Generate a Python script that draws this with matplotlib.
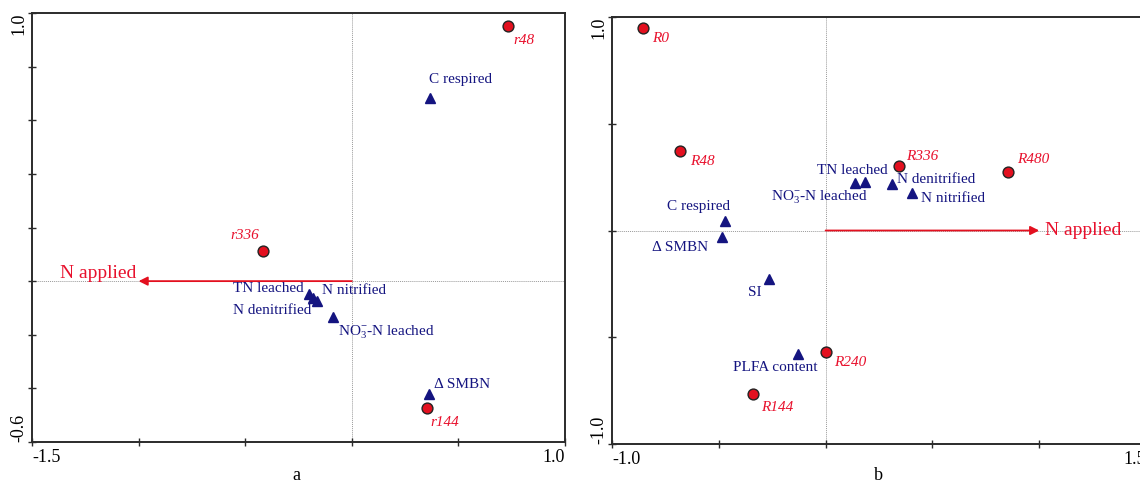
import matplotlib
matplotlib.use("Agg")
import matplotlib.pyplot as plt

plt.rcParams['font.family'] = ['Liberation Serif', 'DejaVu Serif']
plt.rcParams['mathtext.fontset'] = 'custom'
plt.rcParams['mathtext.rm'] = 'Liberation Serif'
plt.rcParams['mathtext.it'] = 'Liberation Serif:italic'

# ---------------- data: panel a ----------------
a_samples = ['r48', 'r336', 'r144']
a_sample_x = [0.733, -0.417, 0.353]
a_sample_y = [0.950, 0.112, -0.473]
a_vars = ['C respired', 'TN leached', 'N denitrified', 'N nitrified',
          r'NO$_3^{-}$-N leached', 'Δ SMBN']
a_var_x = [0.367, -0.201, -0.180, -0.163, -0.088, 0.362]
a_var_y = [0.683, -0.048, -0.062, -0.074, -0.134, -0.421]
a_env = 'N applied'
a_env_x = -1.0
a_env_y = 0.0
a_xlim = (-1.5, 1.0)
a_ylim = (-0.6, 1.0)
a_xticks = [-1.5, -1.0, -0.5, 0.0, 0.5, 1.0]
a_yticks = [-0.6, -0.4, -0.2, 0.0, 0.2, 0.4, 0.6, 0.8, 1.0]

# ---------------- data: panel b ----------------
b_samples = ['R0', 'R48', 'R144', 'R240', 'R336', 'R480']
b_sample_x = [-0.855, -0.682, -0.340, 0.002, 0.344, 0.854]
b_sample_y = [0.948, 0.372, -0.766, -0.569, 0.302, 0.274]
b_vars = ['C respired', 'Δ SMBN', 'SI', 'PLFA content', r'NO$_3^{-}$-N leached',
          'TN leached', 'N denitrified', 'N nitrified']
b_var_x = [-0.471, -0.485, -0.265, -0.129, 0.138, 0.184, 0.311, 0.404]
b_var_y = [0.045, -0.030, -0.227, -0.578, 0.222, 0.227, 0.218, 0.176]
b_env = 'N applied'
b_env_x = 1.0
b_env_y = 0.0
b_xlim = (-1.0, 1.5)
b_ylim = (-1.0, 1.0)
b_xticks = [-1.0, -0.5, 0.0, 0.5, 1.0, 1.5]
b_yticks = [-1.0, -0.5, 0.0, 0.5, 1.0]

# ---------------- label offsets (pixels) ----------------
a_sample_off = {'r48': (5, -14, 'left'), 'r336': (-4, 16, 'right'), 'r144': (3, -15, 'left')}
a_var_off = {'C respired': (-1, 18, 'left'), 'TN leached': (-5, 5, 'right'),
             'N denitrified': (-2, -13, 'right'), 'N nitrified': (5, 10, 'left'),
             r'NO$_3^{-}$-N leached': (5, -15, 'left'), 'Δ SMBN': (5, 10, 'left')}
b_sample_off = {'R0': (9, -10, 'left'), 'R48': (10, -10, 'left'), 'R144': (8, -13, 'left'),
                'R240': (8, -11, 'left'), 'R336': (7, 10, 'left'), 'R480': (9, 13, 'left')}
b_var_off = {'C respired': (5, 14, 'right'), 'Δ SMBN': (-14, -11, 'right'),
             'SI': (-7, -14, 'right'), 'PLFA content': (19, -14, 'right'),
             r'NO$_3^{-}$-N leached': (13, -14, 'right'), 'TN leached': (23, 12, 'right'),
             'N denitrified': (5, 4, 'left'), 'N nitrified': (9, -6, 'left')}

RED = '#e3101f'
RED_TXT = '#e8112d'
NAVY = '#141480'
SPINE = '#2b2b2b'

fig = plt.figure(figsize=(11.4, 4.82), dpi=100)
W, H = 1140, 482
ax_a = fig.add_axes([32 / W, (H - 442) / H, 533 / W, 429 / H])
ax_b = fig.add_axes([612 / W, (H - 444) / H, 534 / W, 427 / H])


def draw(ax, sx, sy, snames, soff, vx, vy, vnames, voff, ex, ey, ename, eoff,
         xlim, ylim, xticks, yticks):
    ax.set_xlim(*xlim)
    ax.set_ylim(*ylim)
    ax.axhline(0, color='#9a9a9a', lw=0.7, ls=(0, (1, 1)), zorder=1)
    ax.axvline(0, color='#9a9a9a', lw=0.7, ls=(0, (1, 1)), zorder=1)
    ax.annotate('', xy=(ex, ey), xytext=(0, 0),
                arrowprops=dict(arrowstyle='-|>', color=RED, lw=1.3,
                                mutation_scale=13, shrinkA=0, shrinkB=0),
                zorder=2)
    ax.annotate(ename, xy=(ex, ey), xytext=eoff[:2], textcoords='offset pixels',
                ha=eoff[2], va='center', color=RED_TXT, fontsize=14)
    ax.plot(vx, vy, ls='none', marker='^', ms=7, color=NAVY, mec=NAVY, zorder=3)
    ax.plot(sx, sy, ls='none', marker='o', ms=7.8, color=RED, mec='#222222',
            mew=1.0, zorder=4)
    for n, x, y in zip(vnames, vx, vy):
        dx, dy, ha = voff[n]
        ax.annotate(n, xy=(x, y), xytext=(dx, dy), textcoords='offset pixels',
                    ha=ha, va='center', color=NAVY, fontsize=11)
    for n, x, y in zip(snames, sx, sy):
        dx, dy, ha = soff[n]
        ax.annotate(n, xy=(x, y), xytext=(dx, dy), textcoords='offset pixels',
                    ha=ha, va='center', color=RED_TXT, fontsize=11, style='italic')
    ax.set_xticks(xticks)
    ax.set_yticks(yticks)
    xl = [''] * len(xticks)
    xl[0] = f'{xticks[0]:.1f}'
    xl[-1] = f'{xticks[-1]:.1f}'
    yl = [''] * len(yticks)
    yl[0] = f'{yticks[0]:.1f}'
    yl[-1] = f'{yticks[-1]:.1f}'
    ax.set_xticklabels(xl, fontsize=13)
    ax.set_yticklabels(yl, fontsize=13, rotation=90)
    xt = ax.get_xticklabels()
    xt[0].set_ha('left')
    xt[-1].set_ha('right')
    yt = ax.get_yticklabels()
    yt[0].set_va('bottom')
    yt[-1].set_va('top')
    ax.tick_params(direction='inout', length=6, width=1, color=SPINE,
                   labelcolor='black')
    ax.tick_params(axis='x', pad=2)
    ax.tick_params(axis='y', pad=0)
    for s in ax.spines.values():
        s.set_color(SPINE)
        s.set_linewidth(1.4)


draw(ax_a, a_sample_x, a_sample_y, a_samples, a_sample_off,
     a_var_x, a_var_y, a_vars, a_var_off, a_env_x, a_env_y, a_env, (-2, 8, 'right'),
     a_xlim, a_ylim, a_xticks, a_yticks)
draw(ax_b, b_sample_x, b_sample_y, b_samples, b_sample_off,
     b_var_x, b_var_y, b_vars, b_var_off, b_env_x, b_env_y, b_env, (6, 0, 'left'),
     b_xlim, b_ylim, b_xticks, b_yticks)

fig.text(296 / W, 6 / H, 'a', ha='center', va='center', fontsize=13)
fig.text(878 / W, 6 / H, 'b', ha='center', va='center', fontsize=13)

fig.savefig('out.png', dpi=100)
